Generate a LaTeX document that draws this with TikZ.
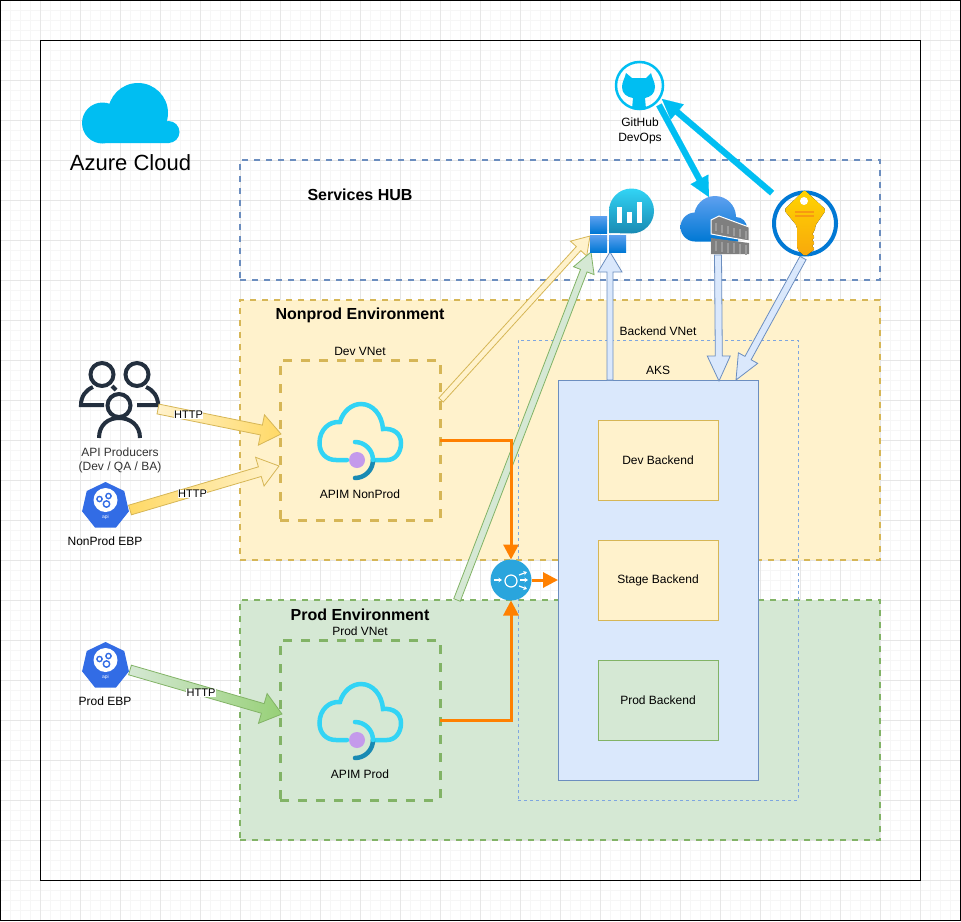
\documentclass[tikz,border=0pt]{standalone}
\usepackage{fontspec}
\setmainfont{Liberation Sans}
\usetikzlibrary{arrows.meta,calc,shadings}

\definecolor{gridmajor}{HTML}{E6E6E6}
\definecolor{gridminor}{HTML}{F6F6F6}
\definecolor{yellowfill}{HTML}{FFF2CC}
\definecolor{yellowline}{HTML}{D6B656}
\definecolor{yellowdeep}{HTML}{FFD966}
\definecolor{greenfill}{HTML}{D5E8D4}
\definecolor{greenline}{HTML}{82B366}
\definecolor{greendeep}{HTML}{97D077}
\definecolor{bluefill}{HTML}{DAE8FC}
\definecolor{blueline}{HTML}{6C8EBF}
\definecolor{vnetline}{HTML}{7EA6E0}
\definecolor{azurecyan}{HTML}{00BEF2}
\definecolor{flowcolor}{HTML}{FF8000}
\definecolor{apimcyan}{HTML}{32D4F5}
\definecolor{apimteal}{HTML}{198AB3}
\definecolor{skyblue}{HTML}{5EA0EF}
\definecolor{deepblue}{HTML}{0078D4}
\definecolor{ebpblue}{HTML}{326CE5}
\definecolor{usercolor}{HTML}{232F3E}
\definecolor{gatewayblue}{HTML}{2AA5DD}
\definecolor{rackgray}{HTML}{7F7F7F}
\definecolor{rackstripe}{HTML}{9C9C9C}
\definecolor{keytop}{HTML}{FFD400}
\definecolor{keybottom}{HTML}{F8A80C}
\definecolor{keybar}{HTML}{F79A10}

\tikzset{
  zone/.style={rectangle,outer sep=0pt,inner sep=0pt,line width=2pt,dash pattern=on 6pt off 6pt},
  vnet/.style={rectangle,outer sep=0pt,inner sep=0pt,line width=3pt,dash pattern=on 9pt off 9pt},
  backendbox/.style={rectangle,outer sep=0pt,inner sep=0pt,minimum width=120pt,minimum height=80pt,line width=1pt},
  title/.style={font=\fontsize{16}{18}\selectfont\bfseries},
  httplabel/.style={fill=white,inner sep=.6pt,font=\fontsize{11}{12}\selectfont},
  orangeline/.style={draw=flowcolor,line width=3pt,-{Triangle[length=15pt,width=15pt]}},
  yellowup/.style={draw=yellowline,line width=.8pt,left color=yellowfill,right color=yellowdeep},
  yellowdown/.style={draw=yellowline,line width=.8pt,left color=yellowdeep,right color=yellowfill},
  greenflow/.style={draw=greenline,line width=.8pt,left color=greenfill,right color=greendeep},
  paleyellow/.style={draw=yellowline,line width=.8pt,fill=yellowfill},
  palegreen/.style={draw=greenline,line width=.8pt,fill=greenfill},
  paleblue/.style={draw=blueline,line width=.8pt,fill=bluefill},
  cyanflow/.style={draw=azurecyan,line width=.1pt,fill=azurecyan},
  gatewaytip/.style={white,line width=1.2pt,-{Stealth[length=3.5pt,width=4.5pt]}},
  apimicon/.pic={
    \draw[line width=4.5pt,line cap=round,draw=apimcyan]
      (-10,0) -- (-21,0) .. controls (-31,0) and (-37.5,-7) .. (-37.5,-17)
      .. controls (-37.5,-30) and (-28,-39) .. (-17,-38)
      .. controls (-14,-49) and (-5,-56) .. (4,-56)
      .. controls (16,-56) and (25,-45) .. (26,-31)
      .. controls (37,-32) and (44,-26) .. (44,-17)
      .. controls (44,-7) and (38,0) .. (30,0) -- (18,0);
    \draw[line width=4.5pt,line cap=round,draw=apimteal] (16,0) arc (0:90:18);
    \draw[line width=4.5pt,line cap=round,draw=apimcyan] (-2,-18) arc (-90:0:18);
    \fill[fill={rgb,255:red,196;green,154;blue,235}] (0,0) circle (8);
  },
  ebpicon/.pic={
    \fill[ebpblue] (-90:24) -- (-38.6:24) -- (12.9:24) -- (64.3:24) -- (115.7:24) -- (167.1:24) -- (218.6:24) -- cycle;
    \fill[white] (0,-6) circle (12);
    \foreach \gx/\gy/\gr in {-6/-7/2.6,3/-10/2.6,1/-2/3.2}
      \draw[ebpblue,line width=1.4pt] (\gx,\gy) circle (\gr);
    \node[white,inner sep=0pt,font=\fontsize{5}{6}\selectfont] at (0,11) {api};
  }
}

% one block arrow: style, tail, tip, half shaft, half head, head length
\newcommand{\flowarrow}[6][]{
  \coordinate (headbase) at ($(#3)!#6pt!(#2)$);
  \draw[#1,line join=miter] ($(#2)!#4pt!90:(#3)$) -- ($(headbase)!#4pt!90:(#3)$) -- ($(headbase)!#5pt!90:(#3)$)
    -- (#3) -- ($(headbase)!#5pt!-90:(#3)$) -- ($(headbase)!#4pt!-90:(#3)$) -- ($(#2)!#4pt!-90:(#3)$) -- cycle;
}

\begin{document}
\begin{tikzpicture}[x=1pt,y=-1pt,every node/.style={font=\fontsize{12}{14}\selectfont}]
  \useasboundingbox (0,0) rectangle (961,921);

  % background grid
  \fill[white] (0,0) rectangle (961,921);
  \foreach \gx in {0,10,...,960}
    \draw[gridminor,line width=1pt] (\gx,0) -- (\gx,921);
  \foreach \gy in {0,10,...,920}
    \draw[gridminor,line width=1pt] (0,\gy) -- (961,\gy);
  \foreach \gx in {0,40,...,960}
    \draw[gridmajor,line width=1pt] (\gx,0) -- (\gx,921);
  \foreach \gy in {0,40,...,920}
    \draw[gridmajor,line width=1pt] (0,\gy) -- (961,\gy);
  \draw[black,line width=1pt] (.5,.5) rectangle (960.5,920.5);

  % cloud frame
  \node[rectangle,draw=black,line width=1pt,inner sep=0pt,outer sep=0pt,minimum width=880pt,minimum height=840pt] (azure) at (480,460) {};
  \fill[azurecyan] (102.5,123) circle (20.5) (138,113) circle (30) (168.5,132) circle (11) (169,122) rectangle (102,143);
  \node[font=\fontsize{22}{24}\selectfont] (azurelabel) at (130.5,163) {Azure Cloud};

  % zones
  \node[zone,draw=blueline,minimum width=640pt,minimum height=120pt] (hub) at (560,220) {};
  \node[zone,draw=yellowline,fill=yellowfill,minimum width=640pt,minimum height=260pt] (nonprod) at (560,430) {};
  \node[zone,draw=greenline,fill=greenfill,minimum width=640pt,minimum height=240pt] (prod) at (560,720) {};
  \node[title] (hublabel) at (360,195) {Services HUB};
  \node[title] (nonprodlabel) at (360,315.5) {Nonprod Environment};
  \node[title] (prodlabel) at (360,615) {Prod Environment};

  % vnets
  \node[vnet,draw=yellowline,fill=yellowfill,minimum width=160pt,minimum height=160pt] (devvnet) at (360,440) {};
  \node[vnet,draw=greenline,fill=greenfill,minimum width=160pt,minimum height=160pt] (prodvnet) at (360,720) {};
  \node (devvnetlabel) at (360,351) {Dev VNet};
  \node (prodvnetlabel) at (360,631) {Prod VNet};

  % backend
  \node[rectangle,draw=blueline,fill=bluefill,line width=1pt,inner sep=0pt,outer sep=0pt,minimum width=200pt,minimum height=400pt] (aks) at (658,580) {};
  \node[rectangle,draw=vnetline,line width=.8pt,dash pattern=on 3pt off 3pt,inner sep=0pt,outer sep=0pt,minimum width=280pt,minimum height=460pt] (backendvnet) at (658,570) {};
  \node (backendlabel) at (658,331) {Backend VNet};
  \node (akslabel) at (658,370) {AKS};
  \node[backendbox,draw=yellowline,fill=yellowfill] (devbackend) at (658,460) {Dev Backend};
  \node[backendbox,draw=yellowline,fill=yellowfill] (stagebackend) at (658,580) {Stage Backend};
  \node[backendbox,draw=greenline,fill=greenfill] (prodbackend) at (658,700) {Prod Backend};

  % apim
  \pic at (357,460) {apimicon};
  \pic at (357,740) {apimicon};
  \node (apimnonprod) at (360,494) {APIM NonProd};
  \node (apimprod) at (360,774) {APIM Prod};

  % producers
  \draw[usercolor,line width=4pt,line cap=round] (102,374.5) circle (11.5) (137,374.5) circle (11.5) (119,405.5) circle (11.5);
  \draw[usercolor,line width=4pt] (104,405) -- (81,405) .. controls (81,396) and (86,390) .. (93,387)
    (112,386) -- (116,390)
    (137,405) -- (158,405) .. controls (158,396) and (153,390) .. (146,387)
    (99,438) .. controls (99,425) and (108,418) .. (119,418) .. controls (130,418) and (140,425) .. (140,438);
  \node[text=black!80,align=center,inner sep=0pt] (producers) at (120,460) {API Producers\\(Dev / QA / BA)};

  % ebp
  \pic at (105.5,506) {ebpicon};
  \pic at (105.5,666) {ebpicon};
  \node (nonprodebp) at (105,541) {NonProd EBP};
  \node (prodebp) at (105,701) {Prod EBP};

  % free ends of the block arrows
  \coordinate (producertail) at (158,409);
  \coordinate (devin) at (281,434);
  \coordinate (nonprodtail) at (130,510);
  \coordinate (devinlow) at (279,466);
  \coordinate (prodtail) at (130,670);
  \coordinate (prodin) at (282,714);
  \coordinate (devout) at (441,400);
  \coordinate (insightsyellow) at (590,236);
  \coordinate (prodout) at (457,600);
  \coordinate (insightsgreen) at (591,252);
  \coordinate (aksout) at (610,380);
  \coordinate (insightsblue) at (610,252);
  \coordinate (storagetail) at (718,255);
  \coordinate (aksstorage) at (719,381);
  \coordinate (keytail) at (803,258);
  \coordinate (akskey) at (736,380);
  \coordinate (githubout) at (659,105);
  \coordinate (storagein) at (709,197);
  \coordinate (keyout) at (772,193);
  \coordinate (githubin) at (662,99);

  % block arrows
  \flowarrow[yellowup]{producertail}{devin}{5}{15.5}{20}
  \flowarrow[yellowdown]{nonprodtail}{devinlow}{5}{15}{20}
  \flowarrow[greenflow]{prodtail}{prodin}{5}{15.5}{20}
  \flowarrow[paleyellow]{devout}{insightsyellow}{3}{11}{17}
  \flowarrow[palegreen]{prodout}{insightsgreen}{3.5}{11}{20}
  \flowarrow[paleblue]{aksout}{insightsblue}{3}{12}{20}
  \flowarrow[paleblue]{storagetail}{aksstorage}{3.5}{11.5}{25}
  \flowarrow[paleblue]{keytail}{akskey}{3.5}{11}{25}
  \flowarrow[cyanflow]{githubout}{storagein}{3}{10}{20}
  \flowarrow[cyanflow]{keyout}{githubin}{3}{10}{20}

  \node[httplabel] (http1) at (188.5,415) {HTTP};
  \node[httplabel] (http2) at (192.5,494) {HTTP};
  \node[httplabel] (http3) at (201,693) {HTTP};

  % gateway
  \node[circle,fill=gatewayblue,inner sep=0pt,outer sep=0pt,minimum size=41pt] (gateway) at (511,580) {};
  \draw[white,line width=1.2pt] (511,581) circle (6);
  \draw[gatewaytip] (494,580) -- (502,580);
  \draw[gatewaytip] (519,575) -- (527,572);
  \draw[gatewaytip] (520,580) -- (528,580);
  \draw[gatewaytip] (519,586) -- (527,589);
  \draw[orangeline] (devvnet.east) -| (gateway.north);
  \draw[orangeline] (prodvnet.east) -| (gateway.south);
  \draw[orangeline] (gateway.east) -- (aks.west);

  % github
  \node[circle,draw=azurecyan,line width=2.5pt,minimum size=47pt,inner sep=0pt] (github) at (639.5,85.5) {};
  \fill[azurecyan] (626,73) -- (632,78) -- (646,78) -- (651,73) .. controls (652,78) and (655,82) .. (655,87)
    .. controls (655,94) and (650,97) .. (645,98) -- (646,109) -- (632,109) -- (633,98)
    .. controls (627,97) and (622,94) .. (622,87) .. controls (622,82) and (625,78) .. (626,73);
  \node[align=center,inner sep=0pt,font=\fontsize{12}{15}\selectfont] (githublabel) at (640,131) {GitHub\\DevOps};

  % insights icon
  \shade[top color=apimcyan,bottom color=apimteal] (609,233) -- (609,211) arc (180:360:22.5) arc (0:90:22.5) -- cycle;
  \fill[white] (617,207) rectangle (622,223);
  \fill[white] (627,212) rectangle (632,223);
  \fill[white] (637,202) rectangle (642,223);
  \foreach \sx/\sy in {590/216,590/235,609/235}
    \shade[top color=skyblue,bottom color=deepblue] (\sx,\sy) rectangle ++(17,17);

  % storage icon
  \shade[top color=skyblue,bottom color=deepblue] (695,227) circle (14.5) (715,217) circle (21) (736,228) circle (11) (738,225) rectangle (695,241.5);
  \fill[rackgray,draw=white,line width=1pt] (711,220) -- (719,216) -- (749,227) -- (749,241) -- (711,234) -- cycle;
  \fill[rackgray] (711,238) -- (749,243) -- (749,254) -- (711,254) -- cycle;
  \foreach \sx in {716,722,...,746} {
    \draw[rackstripe,line width=2.5pt] (\sx,{223+(\sx-714)*.24}) -- ++(0,8);
    \draw[rackstripe,line width=2.5pt] (\sx,{241+(\sx-714)*.12}) -- ++(0,10);
  }

  % key icon
  \node[circle,draw=deepblue,line width=4pt,minimum size=62pt,inner sep=0pt] (keyvault) at (805,223.5) {};
  \fill[top color=keytop,bottom color=keybottom,rounded corners=2pt]
    (804.5,190) -- (826,210) -- (815,226) -- (815,231) -- (811.5,234) -- (815,237) -- (811.5,240) -- (815,243)
    -- (811.5,246) -- (815,249) -- (805,256.5) -- (797,249) -- (797,226) -- (784,210) -- cycle;
  \fill[white] (804,201) circle (4);
  \fill[keybar] (795,211) rectangle (814,213);
  \fill[keybar] (795,215) rectangle (814,217);
\end{tikzpicture}
\end{document}
